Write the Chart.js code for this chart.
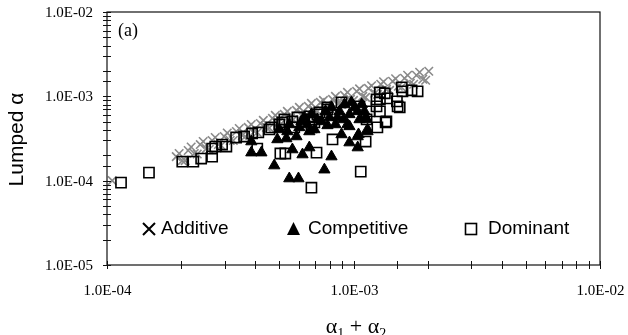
<!DOCTYPE html>
<html><head><meta charset="utf-8">
<script src="https://cdn.jsdelivr.net/npm/chart.js@4.4.1/dist/chart.umd.min.js"></script>
<style>html,body{margin:0;padding:0;background:#fff}#wrap{width:628px;height:335px}</style>
</head><body><div id="wrap"><canvas id="c" width="628" height="335"></canvas></div>
<script>
// Additive (x marks, grey band)
const additiveX = [1.05e-4,1.91e-4,2.02e-4,2.135e-4,2.26e-4,2.39e-4,2.53e-4,2.67e-4,2.83e-4,2.99e-4,3.16e-4,3.35e-4,3.54e-4,3.74e-4,3.96e-4,4.19e-4,4.43e-4,4.69e-4,4.96e-4,5.24e-4,5.55e-4,5.87e-4,6.20e-4,6.56e-4,6.94e-4,7.34e-4,7.77e-4,8.22e-4,8.69e-4,9.19e-4,9.72e-4,1.03e-3,1.09e-3,1.15e-3,1.22e-3,1.29e-3,1.36e-3,1.44e-3,1.52e-3,1.61e-3,1.70e-3,1.80e-3,1.91e-3,2.02e-3,
  1.962e-4,2.075e-4,2.195e-4,2.323e-4,2.456e-4,2.598e-4,2.748e-4,2.907e-4,3.075e-4,3.253e-4,3.44e-4,3.639e-4,3.849e-4,4.072e-4,4.307e-4,4.555e-4,4.818e-4,5.097e-4,5.391e-4,5.703e-4,6.032e-4,6.381e-4,6.749e-4,7.139e-4,7.551e-4,7.988e-4,8.449e-4,8.937e-4,9.454e-4,1.0e-3,1.058e-3,1.119e-3,1.184e-3,1.252e-3,1.324e-3,1.401e-3,1.482e-3,1.567e-3,1.658e-3,1.754e-3,1.855e-3,1.962e-3];
const additiveY = [1.0e-4,1.93e-4,1.73e-4,2.28e-4,2.10e-4,2.68e-4,2.40e-4,2.99e-4,2.68e-4,3.34e-4,2.99e-4,3.83e-4,3.43e-4,4.28e-4,3.83e-4,4.77e-4,4.28e-4,5.47e-4,4.90e-4,6.11e-4,5.47e-4,6.81e-4,6.11e-4,7.60e-4,6.81e-4,8.48e-4,7.40e-4,9.21e-4,8.25e-4,1.028e-3,9.21e-4,1.147e-3,1.0e-3,1.245e-3,1.086e-3,1.389e-3,1.211e-3,1.509e-3,1.315e-3,1.638e-3,1.428e-3,1.778e-3,1.593e-3,1.985e-3,
  2.10e-4,1.73e-4,2.506e-4,2.068e-4,2.91e-4,2.34e-4,3.25e-4,2.61e-4,3.68e-4,2.99e-4,4.16e-4,3.34e-4,4.64e-4,3.73e-4,5.18e-4,4.22e-4,5.94e-4,4.77e-4,6.63e-4,5.32e-4,7.40e-4,5.94e-4,8.25e-4,6.63e-4,8.96e-4,7.20e-4,1.0e-3,8.03e-4,1.116e-3,8.96e-4,1.228e-3,9.73e-4,1.334e-3,1.056e-3,1.488e-3,1.179e-3,1.615e-3,1.28e-3,1.778e-3,1.389e-3,1.931e-3,1.55e-3];
// Competitive (filled triangles)
const competitiveX = [3.85e-4,3.85e-4,4.23e-4,4.91e-4,5.34e-4,5.87e-4,5.65e-4,4.77e-4,5.49e-4,5.98e-4,6.21e-4,6.62e-4,8.94e-4,9.63e-4,1.04e-3,1.04e-3,1.14e-3,1.13e-3,8.14e-4,7.62e-4,6.03e-4,6.50e-4,6.94e-4,7.41e-4,7.99e-4,8.45e-4,8.77e-4,9.19e-4,9.63e-4,1.01e-3,1.058e-3,9.45e-4,1.107e-3,1.048e-3,1.14e-3,9.63e-4,5.39e-4,
  6.32e-4,6.75e-4,7.14e-4,7.70e-4,8.14e-4,8.61e-4,9.11e-4,9.81e-4,1.04e-3,1.08e-3,1.12e-3,7.84e-4,6.62e-4,6.15e-4,5.49e-4,5.00e-4];
const competitiveY = [2.91e-4,2.15e-4,2.15e-4,3.08e-4,3.16e-4,3.34e-4,2.34e-4,1.51e-4,1.06e-4,1.06e-4,2.04e-4,2.47e-4,3.53e-4,2.83e-4,2.47e-4,3.34e-4,4.05e-4,5.32e-4,1.93e-4,1.35e-4,4.28e-4,4.64e-4,4.05e-4,5.04e-4,5.62e-4,4.64e-4,6.63e-4,8.03e-4,6.11e-4,7.40e-4,5.32e-4,4.64e-4,6.63e-4,3.53e-4,3.83e-4,4.40e-4,3.83e-4,
  5.62e-4,6.11e-4,5.32e-4,6.63e-4,7.40e-4,5.62e-4,5.32e-4,8.48e-4,6.63e-4,8.03e-4,5.62e-4,4.52e-4,3.83e-4,5.04e-4,4.64e-4,4.05e-4];
// Dominant (open squares)
const dominantX = [1.14e-4,1.48e-4,2.02e-4,2.24e-4,2.41e-4,2.67e-4,2.67e-4,2.75e-4,2.93e-4,3.05e-4,3.34e-4,3.60e-4,3.88e-4,4.11e-4,4.07e-4,4.56e-4,5.05e-4,5.29e-4,5.14e-4,5.65e-4,6.75e-4,7.08e-4,8.22e-4,1.07e-3,1.12e-3,1.25e-3,1.35e-3,1.54e-3,1.50e-3,1.82e-3,1.72e-3,1.58e-3,1.37e-3,1.34e-3,1.28e-3,7.84e-4,7.28e-4,6.75e-4,6.94e-4,1.24e-3,1.28e-3,4.64e-4,5.00e-4,5.92e-4,5.75e-4,5.24e-4,6.62e-4,8.94e-4,7.84e-4,7.14e-4,6.75e-4,1.058e-3,1.13e-3,1.16e-3,1.24e-3,1.28e-3,1.57e-3,1.51e-3,1.36e-3];
const dominantY = [9.47e-5,1.245e-4,1.68e-4,1.68e-4,1.83e-4,1.93e-4,2.40e-4,2.54e-4,2.68e-4,2.54e-4,3.25e-4,3.34e-4,3.63e-4,3.73e-4,2.40e-4,4.05e-4,2.10e-4,2.10e-4,4.90e-4,5.04e-4,8.26e-5,2.15e-4,3.08e-4,1.28e-4,2.91e-4,4.28e-4,4.90e-4,7.40e-4,8.71e-4,1.148e-3,1.18e-3,1.148e-3,9.46e-4,1.087e-3,9.2e-4,7.40e-4,6.45e-4,5.32e-4,4.90e-4,7.60e-4,6.63e-4,4.28e-4,4.64e-4,5.62e-4,4.28e-4,5.32e-4,5.78e-4,8.48e-4,7.0e-4,6.11e-4,4.28e-4,7.60e-4,5.32e-4,6.63e-4,9.2e-4,1.116e-3,1.28e-3,7.60e-4,5.04e-4];

const seriesNames = ['Additive','Competitive','Dominant'];
const xTickLabels = ['1.0E-04','1.0E-03','1.0E-02'];
const yTickLabels = ['1.0E-05','1.0E-04','1.0E-03','1.0E-02'];
const xTitle = ['\u03b1','1',' + ','\u03b1','2'];
const yTitle = 'Lumped \u03b1';
const panelLabel = '(a)';

const pts = (xs, ys) => xs.map((x, i) => ({x, y: ys[i]}));
const SERIF = '"Liberation Serif", "Times New Roman", serif';
const SANS = '"Liberation Sans", Arial, sans-serif';

function decade(v){ const e = Math.log10(v); return Math.abs(e - Math.round(e)) < 1e-6 ? Math.round(e) : null; }

const decor = {
  id: 'decor',
  afterDraw(chart) {
    const ctx = chart.ctx, a = chart.chartArea;
    const xs = chart.scales.x, ys = chart.scales.y;
    ctx.save();
    ctx.strokeStyle = '#111'; ctx.lineWidth = 1.2;
    ctx.strokeRect(a.left, a.top, a.right - a.left, a.bottom - a.top);
    // crossing ticks + labels
    ctx.lineWidth = 1; ctx.fillStyle = '#000';
    ctx.font = '15px ' + SERIF;
    xs.ticks.forEach(t => { const p = Math.round(xs.getPixelForValue(t.value)) + 0.5;
      ctx.beginPath(); ctx.moveTo(p, a.bottom - 4); ctx.lineTo(p, a.bottom + 4); ctx.stroke();
      const d = decade(t.value);
      if (d !== null) { ctx.textAlign = 'center'; ctx.textBaseline = 'middle'; ctx.fillText(xTickLabels[d + 4], p, a.bottom + 26); } });
    ys.ticks.forEach(t => { const p = Math.round(ys.getPixelForValue(t.value)) + 0.5;
      ctx.beginPath(); ctx.moveTo(a.left - 4, p); ctx.lineTo(a.left + 4, p); ctx.stroke();
      const d = decade(t.value);
      if (d !== null) { ctx.textAlign = 'right'; ctx.textBaseline = 'middle'; ctx.fillText(yTickLabels[d + 5], a.left - 14, p + 1); } });
    // panel label
    ctx.font = '18px ' + SERIF; ctx.textBaseline = 'middle'; ctx.textAlign = 'left';
    ctx.fillText(panelLabel, a.left + 11, a.top + 19);
    // y title
    ctx.save();
    ctx.translate(17, (a.top + a.bottom) / 2 + 1);
    ctx.rotate(-Math.PI / 2);
    ctx.font = '21px ' + SANS; ctx.textAlign = 'center'; ctx.textBaseline = 'middle';
    ctx.fillText(yTitle, 0, 0);
    ctx.restore();
    // x title with subscripts
    const big = '22px ' + SERIF, small = '14px ' + SERIF;
    const parts = [[xTitle[0], big, 0], [xTitle[1], small, 5], [xTitle[2], big, 0], [xTitle[3], big, 0], [xTitle[4], small, 5]];
    let w = 0; parts.forEach(p => { ctx.font = p[1]; w += ctx.measureText(p[0]).width; });
    let x = 356 - w / 2; const base = 333;
    ctx.textBaseline = 'alphabetic'; ctx.textAlign = 'left';
    parts.forEach(p => { ctx.font = p[1]; ctx.fillText(p[0], x, base + p[2]); x += ctx.measureText(p[0]).width; });
    // legend
    const ly = 229;
    ctx.font = '19px ' + SANS; ctx.textBaseline = 'middle';
    ctx.strokeStyle = '#000'; ctx.lineWidth = 2;
    ctx.beginPath(); ctx.moveTo(143, ly - 6); ctx.lineTo(155, ly + 6); ctx.moveTo(155, ly - 6); ctx.lineTo(143, ly + 6); ctx.stroke();
    ctx.fillText(seriesNames[0], 161, ly);
    ctx.beginPath(); ctx.moveTo(293.5, ly - 7); ctx.lineTo(300, ly + 6); ctx.lineTo(287, ly + 6); ctx.closePath(); ctx.fill();
    ctx.fillText(seriesNames[1], 308, ly);
    ctx.lineWidth = 1.6;
    ctx.strokeRect(465.5, ly - 5.5, 11, 11);
    ctx.fillText(seriesNames[2], 488, ly);
    ctx.restore();
  }
};

new Chart(document.getElementById('c'), {
  type: 'scatter',
  data: { datasets: [
    { label: seriesNames[2], data: pts(dominantX, dominantY), pointStyle: 'rect', pointRadius: 7.2,
      borderColor: '#000', backgroundColor: 'rgba(0,0,0,0)', borderWidth: 1.6, order: 1 },
    { label: seriesNames[1], data: pts(competitiveX, competitiveY), pointStyle: 'triangle', pointRadius: 6.5,
      borderColor: '#000', backgroundColor: '#000', borderWidth: 1, order: 2 },
    { label: seriesNames[0], data: pts(additiveX, additiveY), pointStyle: 'crossRot', pointRadius: 6,
      borderColor: '#8a8a8a', backgroundColor: '#8a8a8a', borderWidth: 1.6, order: 3 }
  ]},
  options: {
    responsive: false, animation: false, devicePixelRatio: 1,
    layout: { padding: { left: 0, right: 28, top: 12, bottom: 0 } },
    plugins: { legend: { display: false }, tooltip: { enabled: false } },
    scales: {
      x: { type: 'logarithmic', min: 1e-4, max: 1e-2, position: 'bottom',
        grid: { display: false }, border: { display: false },
        ticks: { display: false, autoSkip: false },
        afterFit: s => { s.height = 70; } },
      y: { type: 'logarithmic', min: 1e-5, max: 1e-2,
        grid: { display: false }, border: { display: false },
        ticks: { display: false, autoSkip: false },
        afterFit: s => { s.width = 107; } }
    }
  },
  plugins: [decor]
});
</script></body></html>
